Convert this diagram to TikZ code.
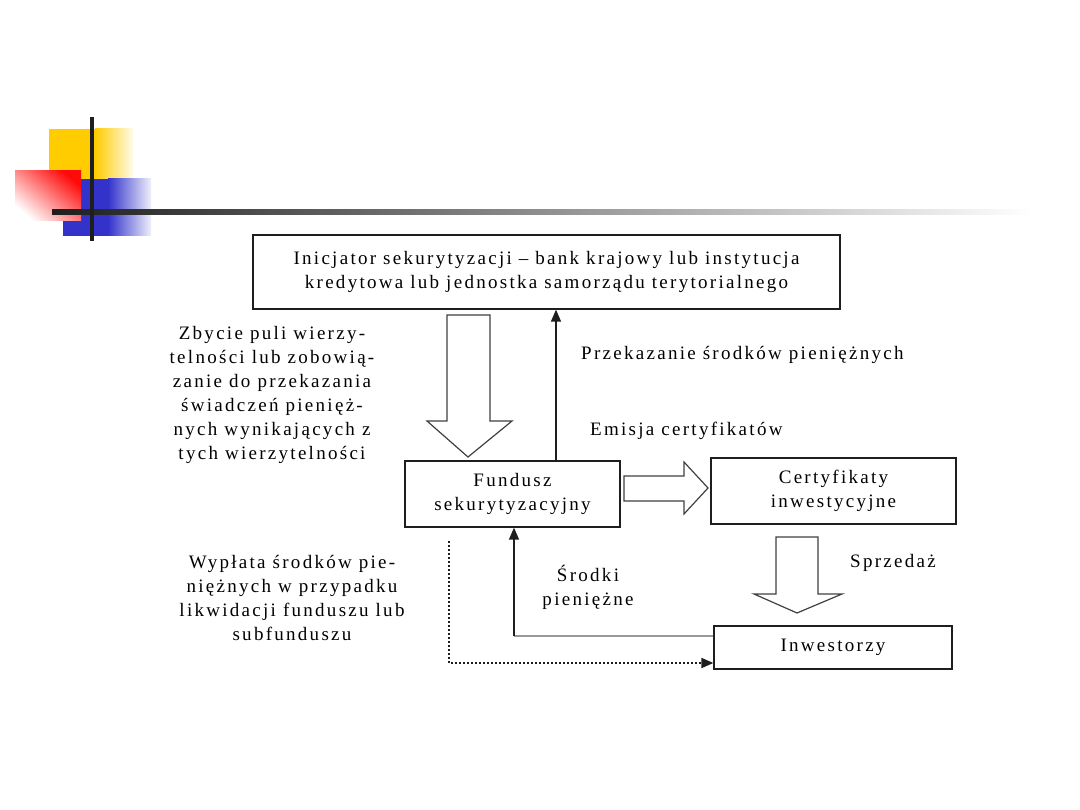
\documentclass[tikz,border=0pt]{standalone}
\usepackage{fontspec}
\setmainfont{Liberation Serif}[LetterSpace=12]
\usetikzlibrary{arrows.meta,calc}
\definecolor{decoyellow}{RGB}{255,204,0}
\definecolor{decored}{RGB}{255,10,10}
\definecolor{decoblue}{RGB}{51,51,204}
\definecolor{lineblack}{RGB}{30,30,30}
\begin{document}
\begin{tikzpicture}[x=1pt,y=-1pt,
  box/.style={draw=lineblack,line width=1.3pt,rectangle,inner sep=0pt,align=center,font=\fontsize{19}{24}\selectfont},
  lbl/.style={align=center,inner sep=0pt,font=\fontsize{19}{24}\selectfont},
  hollow/.style={draw=black!75,line width=1.2pt,fill=white},
  thin/.style={draw=lineblack,line width=1.4pt,-{Triangle[length=12pt,width=10pt]}},
  plainline/.style={draw=black!40,line width=1.4pt},
  dotline/.style={draw=lineblack,line width=2pt,dotted,-{Triangle[length=12pt,width=10pt]}}]
\useasboundingbox (0,0) rectangle (1080,810);
% decoration
\fill[decoyellow] (49,129) rectangle (95,179);
\shade[left color=decoyellow,right color=decoyellow!8!white] (95,129) rectangle (133,179);
\fill[decoblue] (63,179) rectangle (108,236);
\shade[left color=decoblue,right color=decoblue!8!white] (108,179) rectangle (151,236);
\begin{scope}[y=1pt]
\shade[top color=decored,bottom color=white,shading angle=-40] (15,-171) rectangle (81,-221);
\end{scope}
\shade[left color=lineblack,right color=white] (52,209.5) rectangle (1032,214.5);
\draw[lineblack,line width=4pt] (92,117) -- (92,241);
% boxes
\node[box,minimum width=587pt,minimum height=74pt] (init) at (546.5,272) {Inicjator sekurytyzacji – bank krajowy lub instytucja\\kredytowa lub jednostka samorządu terytorialnego};
\node[box,minimum width=215pt,minimum height=66pt] (fund) at (512.5,494) {Fundusz\\sekurytyzacyjny};
\node[box,minimum width=245pt,minimum height=66pt] (cert) at (833.5,491) {Certyfikaty\\inwestycyjne};
\node[box,minimum width=238pt,minimum height=43pt] (inw) at (833,647.5) {Inwestorzy};
% hollow arrows
\draw[hollow] (447,315) -- (490,315) -- (490,421) -- (512,421) -- (468,457) -- (427,421) -- (447,421) -- cycle;
\draw[hollow] (624,476) -- (684,476) -- (684,462) -- (708,488) -- (684,514) -- (684,501) -- (624,501) -- cycle;
\draw[hollow] (776,537) -- (818,537) -- (818,594) -- (842,594) -- (797,613) -- (754,594) -- (776,594) -- cycle;
% thin arrows
\coordinate (up0) at (556,461);
\draw[thin] (up0) -- (up0 |- init.south);
\coordinate (sr0) at (inw.west |- 0,636);
\coordinate (sr1) at (514,636);
\draw[plainline] (sr0) -- (sr1);
\draw[thin] (sr1) -- (sr1 |- fund.south);
\coordinate (dt0) at (449,541);
\coordinate (dt1) at (449,663);
\draw[dotline] (dt0) -- (dt1) -- (dt1 -| inw.west);
% labels
\node[lbl,anchor=west] (l1) at (581,355) {Przekazanie środków pieniężnych};
\node[lbl,anchor=west] (l2) at (590,431) {Emisja certyfikatów};
\node[lbl] (l3) at (272,395) {Zbycie puli wierzy-\\telności lub zobowią-\\zanie do przekazania\\świadczeń pienięż-\\nych wynikających z\\tych wierzytelności};
\node[lbl] (l4) at (292,598) {Wypłata środków pie-\\niężnych w przypadku\\likwidacji funduszu lub\\subfunduszu};
\node[lbl] (l5) at (588,587) {Środki\\pieniężne};
\node[lbl,anchor=west] (l6) at (850,563) {Sprzedaż};
\end{tikzpicture}
\end{document}
